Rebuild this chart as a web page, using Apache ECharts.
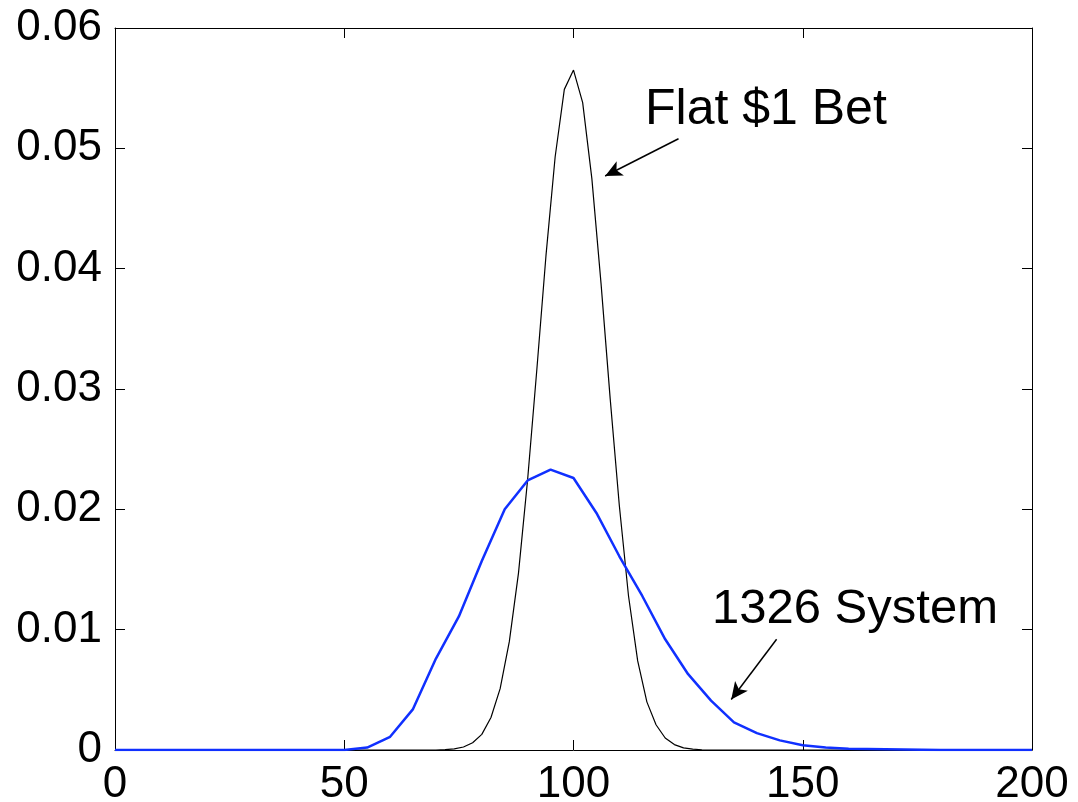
<!DOCTYPE html>
<html>
<head>
<meta charset="utf-8">
<script src="https://cdn.jsdelivr.net/npm/echarts@6/dist/echarts.min.js"></script>
<style>
html,body{margin:0;padding:0;background:#fff;}
#chart{width:1078px;height:802px;}
</style>
</head>
<body>
<div id="chart"></div>
<script>
// Flat $1 Bet distribution (black)
const flatX = [0, 70, 72, 74, 76, 78, 80, 82, 84, 86, 88, 90, 92, 94, 96, 98, 100, 102, 104, 106, 108, 110, 112, 114, 116, 118, 120, 122, 124, 126, 128, 130, 200];
const flatY = [0, 0, 0.00003, 0.00009, 0.00025, 0.0006, 0.0013, 0.0027, 0.0051, 0.0090, 0.0147, 0.0225, 0.0316, 0.0411, 0.0493, 0.0549, 0.0565, 0.0538, 0.0475, 0.0388, 0.0292, 0.0203, 0.0128, 0.0074, 0.0040, 0.0021, 0.0010, 0.00045, 0.00018, 0.00007, 0.00002, 0, 0];
// 1326 System distribution (blue)
const sysX = [0, 50, 55, 60, 65, 70, 75, 80, 85, 90, 95, 100, 105, 110, 115, 120, 125, 130, 135, 140, 145, 150, 155, 160, 180, 200];
const sysY = [0, 0, 0.0002, 0.0011, 0.0034, 0.0076, 0.0111, 0.0157, 0.0200, 0.0224, 0.0233, 0.0226, 0.0197, 0.0161, 0.0128, 0.0092, 0.0063, 0.0041, 0.0023, 0.0014, 0.0008, 0.0004, 0.0002, 0.0001, 0, 0];
// Axis ticks
const xTicks = [0, 50, 100, 150, 200];
const yTicks = [0, 0.01, 0.02, 0.03, 0.04, 0.05, 0.06];
// Annotation labels and arrows [from, to] in data units
const flatLabel = 'Flat $1 Bet';
const sysLabel = '1326 System';
const flatArrow = [[122.9, 0.0508], [106.9, 0.0477]];
const sysArrow = [[144.3, 0.0092], [134.4, 0.0042]];

const FONT = '"Liberation Sans", Arial, Helvetica, sans-serif';
const chart = echarts.init(document.getElementById('chart'), null, {renderer: 'canvas'});

function pairs(xs, ys) { return xs.map((x, i) => [x, ys[i]]); }

const axisCommonX = {
  type: 'value', min: xTicks[0], max: xTicks[xTicks.length - 1], interval: 50,
  splitLine: {show: false},
  axisLine: {show: true, onZero: false, lineStyle: {color: '#000', width: 1}},
  axisTick: {show: true, inside: true, length: 10, lineStyle: {color: '#000', width: 1}}
};
const axisCommonY = {
  type: 'value', min: yTicks[0], max: yTicks[yTicks.length - 1], interval: 0.01,
  splitLine: {show: false},
  axisLine: {show: true, onZero: false, lineStyle: {color: '#000', width: 1}},
  axisTick: {show: true, inside: true, length: 10, lineStyle: {color: '#000', width: 1}}
};

const option = {
  animation: false,
  backgroundColor: '#fff',
  grid: {left: 115, right: 46, top: 28, bottom: 52, containLabel: false, outerBoundsMode: 'none'},
  xAxis: [
    Object.assign({}, axisCommonX, {position: 'bottom',
      axisLabel: {show: true, color: '#000', fontFamily: FONT, fontSize: 44, margin: 13,
        formatter: v => String(v)}}),
    Object.assign({}, axisCommonX, {position: 'top', axisLabel: {show: false}})
  ],
  yAxis: [
    Object.assign({}, axisCommonY, {position: 'left',
      axisLabel: {show: true, color: '#000', fontFamily: FONT, fontSize: 44, margin: 13,
        formatter: v => (Math.abs(v) < 1e-12 ? '0' : v.toFixed(2))}}),
    Object.assign({}, axisCommonY, {position: 'right', axisLabel: {show: false}})
  ],
  series: [
    {
      name: 'Flat $1 Bet', type: 'line', data: pairs(flatX, flatY),
      showSymbol: false, smooth: false, z: 2,
      lineStyle: {color: '#000', width: 1.2},
      markLine: {
        silent: true, symbol: ['none', 'arrow'], symbolSize: [12, 17],
        label: {show: false},
        lineStyle: {color: '#000', width: 1.5, type: 'solid'},
        data: [[{coord: flatArrow[0]}, {coord: flatArrow[1]}],
               [{coord: sysArrow[0]}, {coord: sysArrow[1]}]]
      }
    },
    {
      name: '1326 System', type: 'line', data: pairs(sysX, sysY),
      showSymbol: false, smooth: false, z: 3,
      lineStyle: {color: '#1030ff', width: 2.5}
    }
  ],
  graphic: [
    {type: 'text', left: 645, top: 85, style: {text: flatLabel, fill: '#000', font: '50px ' + FONT}},
    {type: 'text', left: 712, top: 585, style: {text: sysLabel, fill: '#000', font: '49px ' + FONT}}
  ]
};
chart.setOption(option);
</script>
</body>
</html>
